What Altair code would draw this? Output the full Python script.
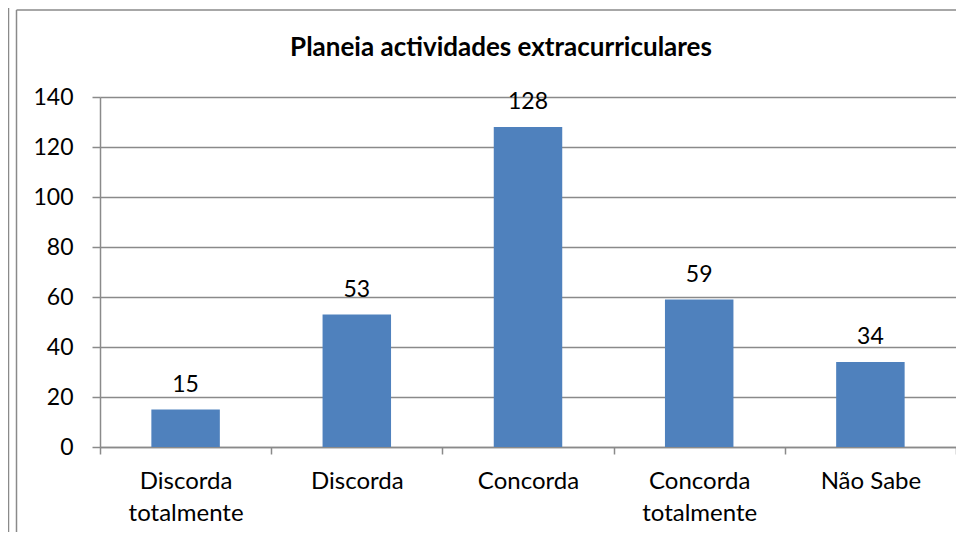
import altair as alt
import pandas as pd

title_text = "Planeia actividades extracurriculares"
categories = ["Discorda totalmente", "Discorda", "Concorda", "Concorda totalmente", "Não Sabe"]
values = [15, 53, 128, 59, 34]
y_ticks = [0, 20, 40, 60, 80, 100, 120, 140]

df = pd.DataFrame({"cat": categories, "val": values})

FONT = "Lato"
GRAY = "#8a8a8a"
BAR = "#4F81BD"

base = alt.Chart(df)

x_enc = alt.X(
    "cat:N",
    sort=categories,
    scale=alt.Scale(paddingInner=0, paddingOuter=0),
    axis=alt.Axis(
        title=None,
        labelAngle=0,
        labelFont=FONT,
        labelFontSize=24,
        labelColor="#000000",
        labelPadding=15,
        labelLineHeight=32,
        labelExpr="datum.label == 'Não Sabe' ? datum.label : split(datum.label, ' ')",
        tickBand="extent",
        tickSize=7,
        tickColor=GRAY,
        tickWidth=1.5,
        domainColor=GRAY,
        domainWidth=1.5,
        grid=False,
    ),
)

y_enc = alt.Y(
    "val:Q",
    scale=alt.Scale(domain=[0, 140], nice=False),
    axis=alt.Axis(
        title=None,
        values=y_ticks,
        labelFont=FONT,
        labelFontSize=23,
        labelColor="#000000",
        labelPadding=19,
        tickSize=8,
        tickColor=GRAY,
        tickWidth=1.5,
        domainColor=GRAY,
        domainWidth=1.5,
        grid=True,
        gridColor=GRAY,
        gridWidth=1.5,
    ),
)

bars = base.mark_bar(color=BAR, width=alt.RelativeBandSize(0.4)).encode(x=x_enc, y=y_enc)

labels = base.mark_text(
    font=FONT, fontSize=23, color="#000000", baseline="alphabetic", dy=-18
).encode(x=alt.X("cat:N", sort=categories), y="val:Q", text="val:Q")

frame_data = alt.Data(values=[{"k": 1}])
frame_outer = alt.Chart(frame_data).mark_rule(color=GRAY, strokeWidth=1.5).encode(
    x=alt.value(-91.5), y=alt.value(-97), y2=alt.value(440)
)
frame_inner = alt.Chart(frame_data).mark_rule(color=GRAY, strokeWidth=1.5).encode(
    x=alt.value(-83.5), y=alt.value(-87), y2=alt.value(440)
)
frame_top = alt.Chart(frame_data).mark_rule(color=GRAY, strokeWidth=1.5).encode(
    x=alt.value(-83.5), x2=alt.value(860), y=alt.value(-87)
)

title = alt.Chart(alt.Data(values=[{"t": title_text}])).mark_text(
    font=FONT, fontSize=26, fontWeight="bold", color="#000000", baseline="alphabetic", align="center"
).encode(x=alt.value(401), y=alt.value(-41), text="t:N")

chart = (
    alt.layer(frame_outer, frame_inner, frame_top, bars, labels, title)
    .properties(
        width=856,
        height=350,
        autosize=alt.AutoSizeParams(type="none"),
        padding={"left": 92, "top": 89, "right": 0, "bottom": 85},
        background="#ffffff",
    )
    .configure_view(stroke="transparent")
)

chart.save("out.html", embed_options={"renderer": "svg", "actions": False})
